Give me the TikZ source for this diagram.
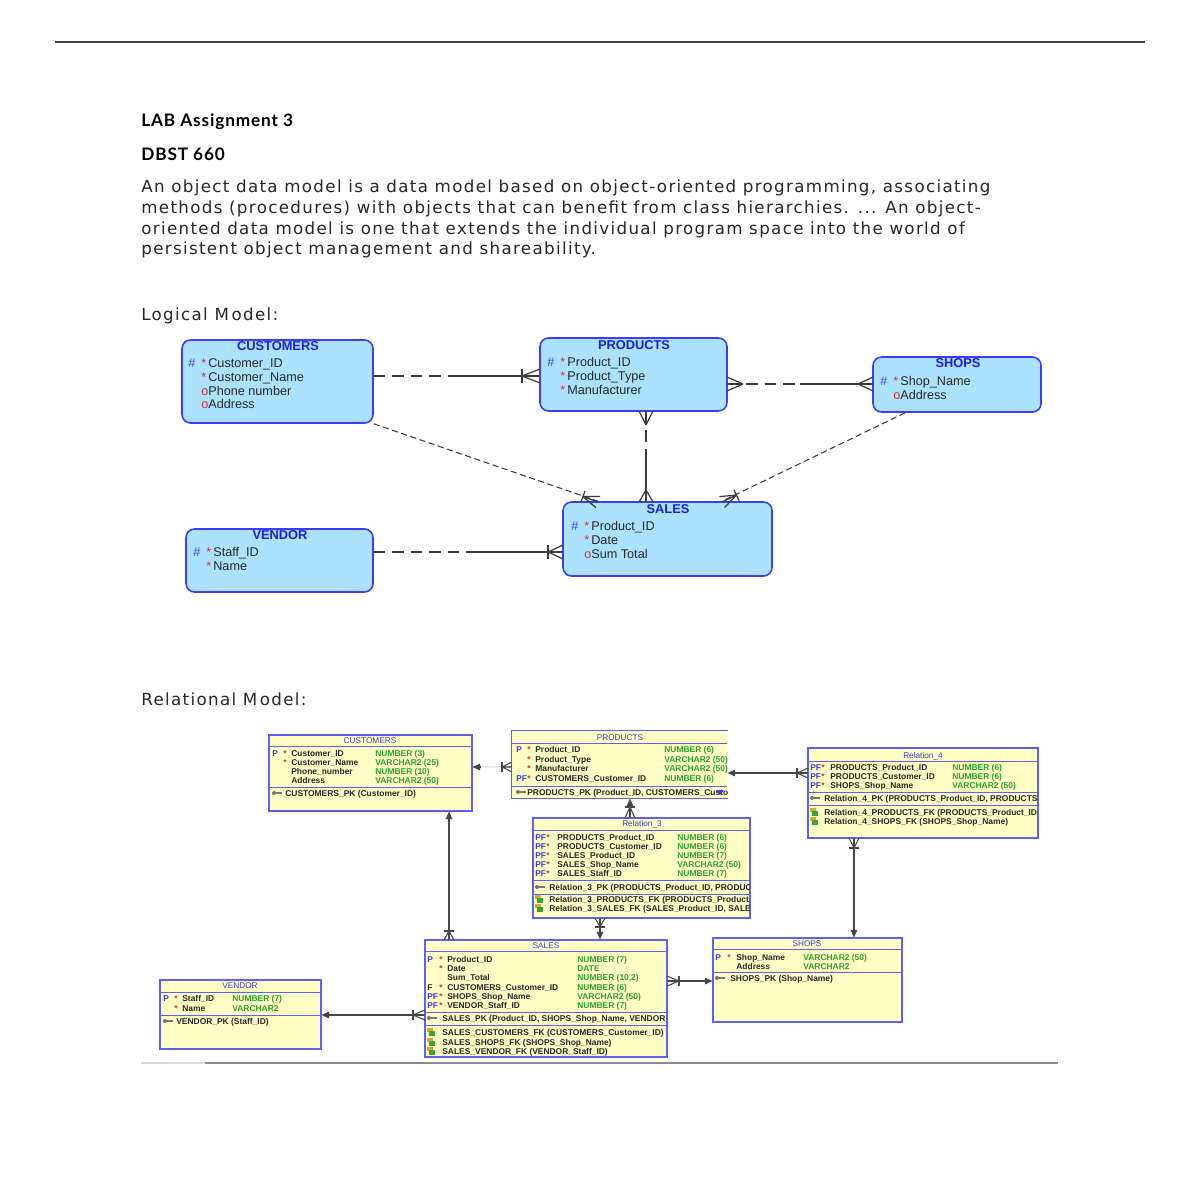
\documentclass[tikz,border=0pt]{standalone}
\usepackage{fontspec}
\usetikzlibrary{arrows.meta,calc,fit}
\newfontfamily\arf{Liberation Sans}
\newfontfamily\djf[LetterSpace=8]{DejaVu Sans}
\newfontfamily\latof[LetterSpace=5]{Lato}
\definecolor{txt}{RGB}{40,40,40}
\definecolor{lfill}{RGB}{170,226,255}
\definecolor{lbord}{RGB}{60,60,250}
\definecolor{ltc}{RGB}{30,30,225}
\definecolor{lhc}{RGB}{70,70,220}
\definecolor{lmc}{RGB}{225,45,45}
\definecolor{lcon}{RGB}{60,60,60}
\definecolor{rfill}{RGB}{255,255,198}
\definecolor{rbord}{RGB}{95,95,250}
\definecolor{rtc}{RGB}{60,60,225}
\definecolor{rflag}{RGB}{60,60,230}
\definecolor{rstar}{RGB}{225,40,40}
\definecolor{rtype}{RGB}{40,165,40}
\definecolor{rcc}{RGB}{70,70,70}
\definecolor{keyc}{RGB}{120,120,120}
\definecolor{fky}{RGB}{215,170,40}
\definecolor{fkg}{RGB}{60,160,60}
\newcommand\crowft[7]{\begin{scope}[shift={(#1,#2)},rotate=#3]
 \draw[#7] (0,#5)--(#4,0) (0,-#5)--(#4,0) (0,0)--(#4,0);
 \ifnum#6=1 \draw[#7] (#4,#5)--(#4,-#5);\fi
\end{scope}}
\newcommand\lrow[5]{%
 \node[lhash] at (#1,#2+4) {#3};
 \node[lmark] at (#1+13,#2+4) {#4};
 \node[latt] at (#1+20,#2+4) {#5};}
\newcommand\rrow[6]{%
 \node[rtxt,text=#2] at (\fx,#1+3) {#3};
 \node[rtxt,text=rstar] at (\sx,#1+3) {#4};
 \node[rtxt] at (\nx,#1+3) {#5};
 \node[rtxt,text=rtype] at (\tx,#1+3) {#6};}
\newcommand\pkicon[2]{\fill[keyc] (#1,#2) circle[radius=2];
 \draw[keyc,line width=0.7pt] (#1,#2)--(#1+8,#2);}
\newcommand\fkicon[2]{\fill[fky] (#1-2,#2-4) rectangle (#1+4,#2);
 \fill[fkg] (#1,#2-1) rectangle (#1+6,#2+4);}
\begin{document}
\begin{tikzpicture}[x=0.02cm,y=-0.02cm,
 lent/.style={draw=lbord, fill=lfill, line width=0.9pt, rounded corners=0.17cm, inner sep=0pt},
 ltitle/.style={font=\arf\bfseries\fontsize{7.3}{8}\selectfont, text=ltc, inner sep=0pt},
 latt/.style={font=\arf\fontsize{7.2}{8}\selectfont, text=txt, inner sep=0pt, anchor=base west},
 lhash/.style={latt, text=lhc},
 lmark/.style={latt, text=lmc},
 ldash/.style={draw=lcon, line width=0.7pt, dash pattern=on 6.5pt off 4pt},
 lsolid/.style={draw=lcon, line width=0.7pt},
 ldiag/.style={draw=lcon, line width=0.6pt, dash pattern=on 3.5pt off 2pt},
 rtab/.style={draw=rbord, fill=rfill, line width=0.6pt, inner sep=0pt},
 rsep/.style={draw=rbord, line width=0.5pt},
 rtitle/.style={font=\arf\fontsize{4.7}{5}\selectfont, text=rtc, inner sep=0pt},
 rtxt/.style={font=\arf\bfseries\fontsize{4.8}{5}\selectfont, text=txt, inner sep=0pt, anchor=base west},
 rcon/.style={draw=rcc, line width=0.6pt},
 rarr/.style={rcon, -{Triangle[length=0.15cm,width=0.13cm]}},
 body/.style={font=\djf\fontsize{9.5}{11}\selectfont, text=txt, inner sep=0pt, anchor=base west},
 hdr/.style={font=\latof\bfseries\fontsize{9.8}{11}\selectfont, text=black, inner sep=0pt, anchor=base west}]
\fill[white] (0,0) rectangle (1200,1200);
\useasboundingbox (0,0) rectangle (1200,1200);
% page rules
\draw[draw=black!75, line width=0.9pt] (55,42) -- (1145,42);
\draw[draw=black!15, line width=0.8pt] (141,1063) -- (205,1063);
\draw[draw=black!45, line width=0.8pt] (205,1063) -- (1058,1063);
% header text
\node[hdr] (h1) at (141,126) {LAB Assignment 3};
\node[hdr] (h2) at (141,160) {DBST 660};
\node[body] (b1) at (141,192) {An object data model is a data model based on object-oriented programming, associating};
\node[body] (b2) at (141,213) {methods (procedures) with objects that can benefit from class hierarchies. ... An object-};
\node[body] (b3) at (141,234) {oriented data model is one that extends the individual program space into the world of};
\node[body] (b4) at (141,254) {persistent object management and shareability.};
\node[body] (lm) at (141,320) {Logical M\kern1.5pt odel:};
\node[body] (rm) at (141,705) {Relational M\kern1.5pt odel:};

% ================= Logical model =================
\node[lent, fit={(182,340)(373,423)}] (lcust) {};
\node[lent, fit={(540,338)(727,411)}] (lprod) {};
\node[lent, fit={(873,357)(1041,412)}] (lshop) {};
\node[lent, fit={(563,502)(772,576)}] (lsales) {};
\node[lent, fit={(186,529)(373,592)}] (lvend) {};
\node[ltitle] at (278,346) {CUSTOMERS};
\lrow{188}{363}{\#}{*}{Customer\_ID}
\lrow{188}{377}{}{*}{Customer\_Name}
\lrow{188}{391}{}{o}{Phone number}
\lrow{188}{404}{}{o}{Address}
\node[ltitle] at (634,345) {PRODUCTS};
\lrow{547}{362}{\#}{*}{Product\_ID}
\lrow{547}{376}{}{*}{Product\_Type}
\lrow{547}{390}{}{*}{Manufacturer}
\node[ltitle] at (958,363) {SHOPS};
\lrow{880}{381}{\#}{*}{Shop\_Name}
\lrow{880}{395}{}{o}{Address}
\node[ltitle] at (668,509) {SALES};
\lrow{571}{526}{\#}{*}{Product\_ID}
\lrow{571}{540}{}{*}{Date}
\lrow{571}{554}{}{o}{Sum Total}
\node[ltitle] at (280,535) {VENDOR};
\lrow{193}{552}{\#}{*}{Staff\_ID}
\lrow{193}{566}{}{*}{Name}
% logical relations
\coordinate (m1) at ($(lcust.east |- 0,376)!0.5!(lprod.west |- 0,376)$);
\draw[ldash] (lcust.east |- 0,376) -- (m1);
\draw[lsolid] (m1) -- (lprod.west |- 0,376);
\crowft{540}{376}{180}{18}{7}{1}{lsolid}
\coordinate (m2) at ($(lprod.east |- 0,384)!0.5!(lshop.west |- 0,384)$);
\draw[ldash] (lprod.east |- 0,384) -- (m2);
\draw[lsolid] (m2) -- (lshop.west |- 0,384);
\crowft{727}{384}{0}{16}{7}{0}{lsolid}
\crowft{873}{384}{180}{15}{7}{0}{lsolid}
\coordinate (m3) at ($(646,0 |- lprod.south)!0.5!(646,0 |- lsales.north)$);
\draw[ldash] (646,0 |- lprod.south) -- (m3);
\draw[lsolid] (m3) -- (646,0 |- lsales.north);
\crowft{646}{411}{-90}{14}{7}{0}{lsolid}
\crowft{646}{502}{90}{12}{7}{0}{lsolid}
\draw[ldiag] (lcust.south east) -- (598,0 |- lsales.north);
\crowft{598}{502}{160.2}{16}{6}{1}{lsolid}
\draw[ldiag] (lshop.south -| 905,0) -- (722,0 |- lsales.north);
\crowft{722}{502}{25.4}{16}{6}{1}{lsolid}
\coordinate (m6) at ($(lvend.east |- 0,552)!0.5!(lsales.west |- 0,552)$);
\draw[ldash] (lvend.east |- 0,552) -- (m6);
\draw[lsolid] (m6) -- (lsales.west |- 0,552);
\crowft{563}{552}{180}{15}{7}{1}{lsolid}

% ================= Relational model =================
% CUSTOMERS
\node[rtab, fit={(269,735)(472,811)}] (rcust) {};
\draw[rsep] (269,746) -- (472,746);
\draw[rsep] (269,787) -- (472,787);
\node[rtitle] at (370,741) {CUSTOMERS};
\def\fx{272}\def\sx{283}\def\nx{291}\def\tx{375}
\rrow{753}{rflag}{P}{*}{Customer\_ID}{NUMBER (3)}
\rrow{762}{rflag}{}{*}{Customer\_Name}{VARCHAR2 (25)}
\rrow{771}{rflag}{}{}{Phone\_number}{NUMBER (10)}
\rrow{780}{rflag}{}{}{Address}{VARCHAR2 (50)}
\pkicon{274}{793}
\node[rtxt] at (285,796) {CUSTOMERS\_PK (Customer\_ID)};
% PRODUCTS
\node[rtab, draw=none, fit={(512,731)(727,798)}] (rprod) {};
\draw[draw=rbord, line width=0.6pt] (rprod.north east) -- (rprod.north west) -- (rprod.south west) -- (rprod.south east);
\draw[rsep] (512,743) -- (727,743);
\draw[rsep] (512,786) -- (727,786);
\node[rtitle] at (620,738) {PRODUCTS};
\begin{scope}
\clip (512,731) rectangle (727,798);
\def\fx{516}\def\sx{527}\def\nx{535}\def\tx{664}
\rrow{749}{rflag}{P}{*}{Product\_ID}{NUMBER (6)}
\rrow{759}{rflag}{}{*}{Product\_Type}{VARCHAR2 (50)}
\rrow{768}{rflag}{}{*}{Manufacturer}{VARCHAR2 (50)}
\rrow{778}{rflag}{PF}{*}{CUSTOMERS\_Customer\_ID}{NUMBER (6)}
\pkicon{518}{792}
\node[rtxt] at (527,795) {PRODUCTS\_PK (Product\_ID, CUSTOMERS\_Customer\_ID)};
\end{scope}
\fill[rflag] (716,790) -- (724,790) -- (720,795) -- cycle;
% Relation_4
\node[rtab, fit={(808,748)(1038,838)}] (rrel4) {};
\draw[rsep] (808,761) -- (1038,761);
\draw[rsep] (808,792) -- (1038,792);
\draw[rsep] (808,805) -- (1038,805);
\node[rtitle] at (923,756) {Relation\_4};
\begin{scope}
\clip (808,748) rectangle (1037,838);
\def\fx{810}\def\sx{821}\def\nx{830}\def\tx{952}
\rrow{767}{rflag}{PF}{*}{PRODUCTS\_Product\_ID}{NUMBER (6)}
\rrow{776}{rflag}{PF}{*}{PRODUCTS\_Customer\_ID}{NUMBER (6)}
\rrow{785}{rflag}{PF}{*}{SHOPS\_Shop\_Name}{VARCHAR2 (50)}
\pkicon{812}{798}
\node[rtxt] at (824,801) {Relation\_4\_PK (PRODUCTS\_Product\_ID, PRODUCTS\_Customer\_ID, SHOPS\_Shop\_Name)};
\fkicon{812}{812}
\node[rtxt] at (824,815) {Relation\_4\_PRODUCTS\_FK (PRODUCTS\_Product\_ID, PRODUCTS\_Customer\_ID)};
\fkicon{812}{821}
\node[rtxt] at (824,824) {Relation\_4\_SHOPS\_FK (SHOPS\_Shop\_Name)};
\end{scope}
% Relation_3
\node[rtab, fit={(533,818)(750,918)}] (rrel3) {};
\draw[rsep] (533,830) -- (750,830);
\draw[rsep] (533,880) -- (750,880);
\draw[rsep] (533,894) -- (750,894);
\node[rtitle] at (642,824) {Relation\_3};
\begin{scope}
\clip (533,818) rectangle (749,918);
\def\fx{535}\def\sx{546}\def\nx{557}\def\tx{677}
\rrow{837}{rflag}{PF}{*}{PRODUCTS\_Product\_ID}{NUMBER (6)}
\rrow{846}{rflag}{PF}{*}{PRODUCTS\_Customer\_ID}{NUMBER (6)}
\rrow{855}{rflag}{PF}{*}{SALES\_Product\_ID}{NUMBER (7)}
\rrow{864}{rflag}{PF}{*}{SALES\_Shop\_Name}{VARCHAR2 (50)}
\rrow{873}{rflag}{PF}{*}{SALES\_Staff\_ID}{NUMBER (7)}
\pkicon{537}{887}
\node[rtxt] at (549,890) {Relation\_3\_PK (PRODUCTS\_Product\_ID, PRODUCTS\_Customer\_ID)};
\fkicon{537}{899}
\node[rtxt] at (549,902) {Relation\_3\_PRODUCTS\_FK (PRODUCTS\_Product\_ID, PRODUCTS\_Customer\_ID)};
\fkicon{537}{908}
\node[rtxt] at (549,911) {Relation\_3\_SALES\_FK (SALES\_Product\_ID, SALES\_Shop\_Name)};
\end{scope}
% SALES
\node[rtab, fit={(425,940)(667,1057)}] (rsales) {};
\draw[rsep] (425,951) -- (667,951);
\draw[rsep] (425,1012) -- (667,1012);
\draw[rsep] (425,1025) -- (667,1025);
\node[rtitle] at (546,946) {SALES};
\begin{scope}
\clip (425,940) rectangle (666,1057);
\def\fx{427}\def\sx{439}\def\nx{447}\def\tx{577}
\rrow{959}{rflag}{P}{*}{Product\_ID}{NUMBER (7)}
\rrow{968}{rflag}{}{*}{Date}{DATE}
\rrow{977}{rflag}{}{}{Sum\_Total}{NUMBER (10,2)}
\rrow{987}{txt}{F}{*}{CUSTOMERS\_Customer\_ID}{NUMBER (6)}
\rrow{996}{rflag}{PF}{*}{SHOPS\_Shop\_Name}{VARCHAR2 (50)}
\rrow{1005}{rflag}{PF}{*}{VENDOR\_Staff\_ID}{NUMBER (7)}
\pkicon{429}{1018}
\node[rtxt] at (442,1021) {SALES\_PK (Product\_ID, SHOPS\_Shop\_Name, VENDOR\_Staff\_ID)};
\fkicon{429}{1032}
\node[rtxt] at (442,1035) {SALES\_CUSTOMERS\_FK (CUSTOMERS\_Customer\_ID)};
\fkicon{429}{1042}
\node[rtxt] at (442,1045) {SALES\_SHOPS\_FK (SHOPS\_Shop\_Name)};
\fkicon{429}{1051}
\node[rtxt] at (442,1054) {SALES\_VENDOR\_FK (VENDOR\_Staff\_ID)};
\end{scope}
% VENDOR
\node[rtab, fit={(160,980)(321,1049)}] (rvend) {};
\draw[rsep] (160,992) -- (321,992);
\draw[rsep] (160,1015) -- (321,1015);
\node[rtitle] at (240,986) {VENDOR};
\def\fx{163}\def\sx{174}\def\nx{182}\def\tx{232}
\rrow{998}{rflag}{P}{*}{Staff\_ID}{NUMBER (7)}
\rrow{1008}{rflag}{}{*}{Name}{VARCHAR2}
\pkicon{165}{1021}
\node[rtxt] at (176,1024) {VENDOR\_PK (Staff\_ID)};
% SHOPS
\node[rtab, fit={(713,938)(902,1022)}] (rshop) {};
\draw[rsep] (713,949) -- (902,949);
\draw[rsep] (713,972) -- (902,972);
\node[rtitle] at (807,944) {SHOPS};
\def\fx{715}\def\sx{727}\def\nx{736}\def\tx{803}
\rrow{957}{rflag}{P}{*}{Shop\_Name}{VARCHAR2 (50)}
\rrow{966}{rflag}{}{}{Address}{VARCHAR2}
\pkicon{717}{978}
\node[rtxt] at (730,981) {SHOPS\_PK (Shop\_Name)};
% relational connectors
\draw[rcon, draw=black!8] (rprod.west |- 0,767) -- (rcust.east |- 0,767);
\draw[rarr] (481,767) -- (rcust.east |- 0,767);
\crowft{512}{767}{180}{10}{5}{1}{rcon}
\draw[rarr] (rrel4.west |- 0,773) -- (rprod.east |- 0,773);
\crowft{808}{773}{180}{11}{5}{1}{rcon}
\draw[rarr] (630,0 |- rrel3.north) -- (630,0 |- rprod.south);
\crowft{630}{818}{90}{11}{5}{1}{rcon}
\draw[rarr] (600,0 |- rrel3.south) -- (600,0 |- rsales.north);
\crowft{600}{918}{-90}{9}{5}{1}{rcon}
\draw[rarr] (449,0 |- rsales.north) -- (449,0 |- rcust.south);
\crowft{449}{940}{90}{9}{5}{1}{rcon}
\draw[rarr] (854,0 |- rrel4.south) -- (854,0 |- rshop.north);
\crowft{854}{838}{-90}{10}{5}{1}{rcon}
\draw[rarr] (rsales.east |- 0,981) -- (rshop.west |- 0,981);
\crowft{667}{981}{0}{12}{5}{1}{rcon}
\draw[rarr] (rsales.west |- 0,1015) -- (rvend.east |- 0,1015);
\crowft{425}{1015}{180}{12}{5}{1}{rcon}
\end{tikzpicture}
\end{document}
